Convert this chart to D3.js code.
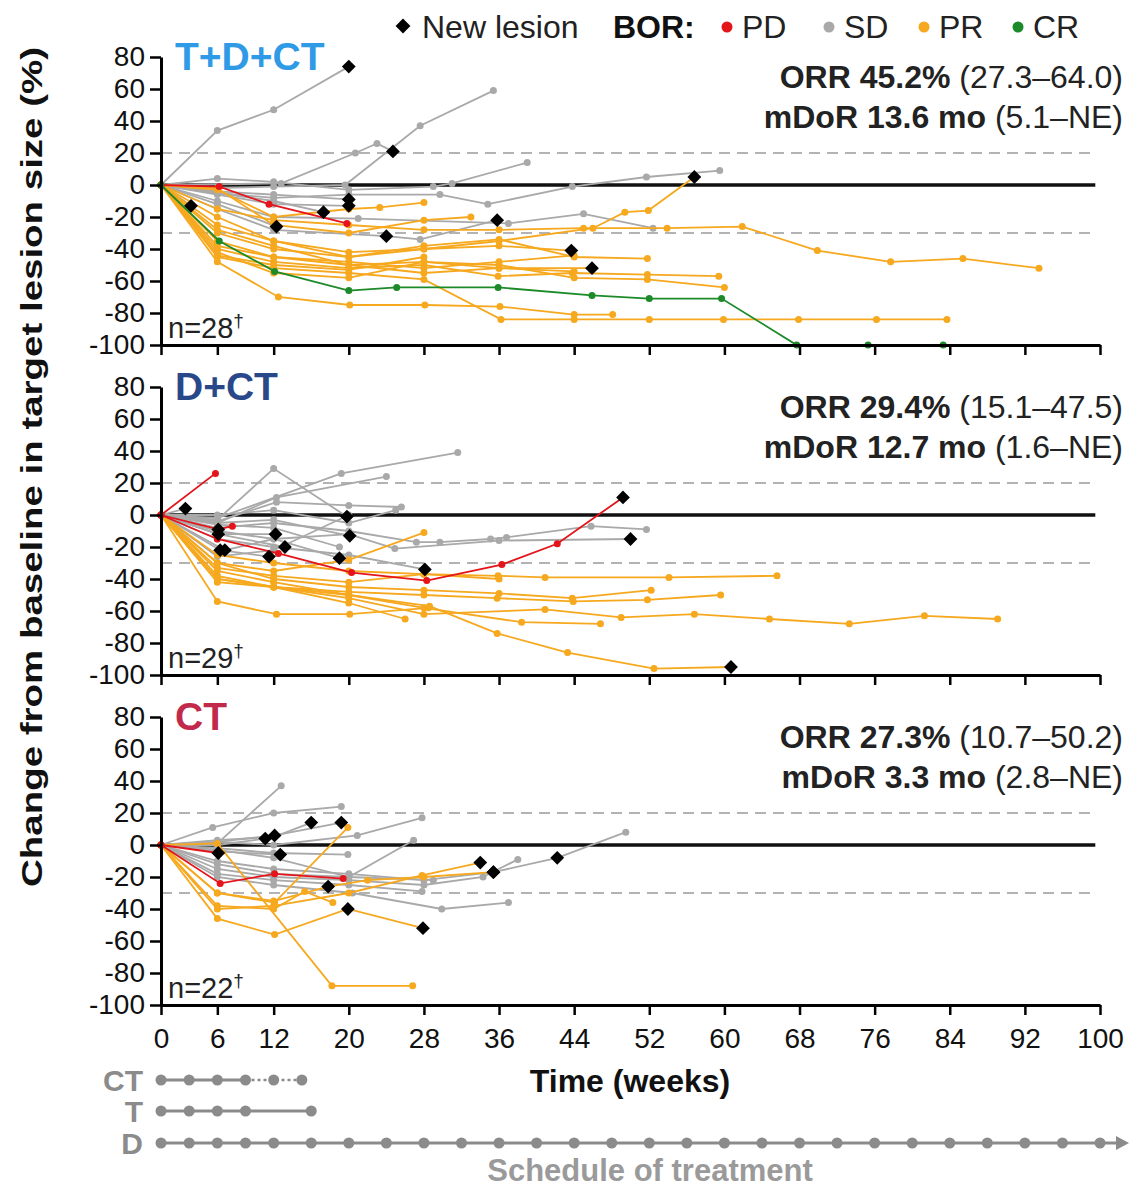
<!DOCTYPE html>
<html>
<head>
<meta charset="utf-8">
<script src="https://cdn.jsdelivr.net/npm/d3@7"></script>
<style>
  body { margin: 0; background: #fff; }
  text { font-family: "Liberation Sans", Arial, sans-serif; }
</style>
</head>
<body>
<div id="chart"></div>
<script>
// ---- data: weeks (t), % change (v), new lesion points (nl) ----
const weekTicks = [0, 6, 12, 20, 28, 36, 44, 52, 60, 68, 76, 84, 92, 100];
const yTicks = [80, 60, 40, 20, 0, -20, -40, -60, -80, -100];
const refLines = [20, -30];

const panelTitles = ["T+D+CT", "D+CT", "CT"];
const panelN = ["n=28", "n=29", "n=22"];
const orrText = ["ORR 45.2%", "ORR 29.4%", "ORR 27.3%"];
const orrCI = ["(27.3–64.0)", "(15.1–47.5)", "(10.7–50.2)"];
const mdorText = ["mDoR 13.6 mo", "mDoR 12.7 mo", "mDoR 3.3 mo"];
const mdorCI = ["(5.1–NE)", "(1.6–NE)", "(2.8–NE)"];

const borLabels = ["PD", "SD", "PR", "CR"];

const tdctPatients = [
  {b: "SD", t: [0, 6, 12, 20], v: [0, 34, 47, 74], nl: [3]},
  {b: "SD", t: [0, 12.8, 20.7, 23, 24.7], v: [0, 1, 20, 26, 21], nl: [4]},
  {b: "SD", t: [0, 6, 12, 19.6, 27.6, 35.4], v: [0, -2, -1, 0, 37, 59]},
  {b: "SD", t: [0, 6, 12, 20, 29, 31, 39], v: [0, 4, 2, -3, -1, 1, 14]},
  {b: "SD", t: [0, 6, 12, 20, 29.7, 34.8, 43.8, 51.7, 59.5], v: [0, -5, -8, -6, -6, -12, -1, 5, 9]},
  {b: "SD", t: [0, 6, 12, 20], v: [0, -4, -6, -9], nl: [3]},
  {b: "SD", t: [0, 6, 12, 21, 37, 45, 52.4], v: [0, -10, -20, -21, -24, -18, -27]},
  {b: "SD", t: [0, 6, 12.3], v: [0, -12, -26], nl: [2]},
  {b: "SD", t: [0, 6, 12, 20], v: [0, -6, -12, -13], nl: [3]},
  {b: "SD", t: [0, 6, 12, 24, 27.6, 35.8], v: [0, -15, -28, -32, -34, -22], nl: [3, 5]},
  {b: "SD", t: [0, 3.2], v: [0, -13], nl: [1]},
  {b: "SD", t: [0, 6, 12, 17.3], v: [0, -5, -10, -17], nl: [3]},
  {b: "PD", t: [0, 6.2, 11.5, 19.8], v: [0, -1, -12, -24]},
  {b: "PR", t: [0, 6, 12, 20, 28, 36, 45, 53.9, 61.9, 69.9, 77.7, 85.4, 93.5], v: [0, -15, -22, -25, -28, -28, -27, -27, -26, -41, -48, -46, -52]},
  {b: "PR", t: [0, 6, 12, 20, 28, 36.2, 44, 52, 59.9, 67.9, 76.2, 83.7], v: [0, -45, -52, -55, -59, -84, -84, -84, -84, -84, -84, -84]},
  {b: "PR", t: [0, 6, 12.5, 20.1, 28.1, 36.1, 44, 48.1], v: [0, -48, -70, -75, -75, -76, -81, -81]},
  {b: "PR", t: [0, 6, 12, 20, 28, 35.9, 43.8, 51.8, 59.4], v: [0, -40, -48, -52, -50, -57, -55, -56, -57]},
  {b: "PR", t: [0, 6, 12, 20, 28, 36, 44, 51.8, 60], v: [0, -42, -55, -58, -48, -50, -58, -59, -64]},
  {b: "PR", t: [0, 6, 12, 20, 28, 36, 44, 51.8], v: [0, -30, -40, -45, -38, -34, -45, -46]},
  {b: "PR", t: [0, 6, 12, 20, 28, 36, 46, 49.4, 51.9, 56.8], v: [0, -20, -35, -45, -40, -35, -27, -17, -16, 5], nl: [9]},
  {b: "PR", t: [0, 6, 12, 20, 23.3, 28], v: [0, -3, -20, -15, -14, -11]},
  {b: "PR", t: [0, 6, 12, 20, 28, 36, 45.9], v: [0, -38, -45, -50, -48, -52, -52], nl: [6]},
  {b: "PR", t: [0, 6, 12, 20, 28, 36, 43.7], v: [0, -25, -35, -42, -40, -38, -41], nl: [6]},
  {b: "PR", t: [0, 6, 12, 20, 28], v: [0, -44, -50, -53, -45]},
  {b: "PR", t: [0, 6, 12, 20, 28, 36, 44], v: [0, -35, -45, -48, -52, -48, -44]},
  {b: "PR", t: [0, 6, 12, 20, 28, 36, 44], v: [0, -28, -38, -50, -55, -52, -54]},
  {b: "PR", t: [0, 6, 12, 20, 28, 33], v: [0, -2, -25, -30, -22, -20]},
  {b: "CR", t: [0, 6.2, 12.1, 20, 25.1, 35.9, 45.9, 52, 59.7, 67.7, 75.3, 83.3], v: [0, -35, -54, -66, -64, -64, -69, -71, -71, -100, -100, -100]}
];

const dctPatients = [
  {b: "SD", t: [0, 6, 19.2, 31.6], v: [0, -2, 26, 39]},
  {b: "SD", t: [0, 6, 12, 19.8], v: [0, -3, 29, -1], nl: [3]},
  {b: "SD", t: [0, 6, 12.3, 24], v: [0, -5, 11, 24]},
  {b: "SD", t: [0, 6, 12.3, 20, 25.6], v: [0, -4, 8, 6, 5]},
  {b: "SD", t: [0, 6, 12, 20, 27.2, 29.7, 35.1, 36.8, 45.8, 51.7], v: [0, -8, -5, -10, -17, -17, -15, -14, -7, -9]},
  {b: "SD", t: [0, 6, 12, 20, 24.9, 36, 50], v: [0, -10, -15, -12, -21, -16, -15], nl: [6]},
  {b: "SD", t: [0, 2.6], v: [0, 4], nl: [1]},
  {b: "SD", t: [0, 6.1, 12.2], v: [0, -12, -12], nl: [1, 2]},
  {b: "SD", t: [0, 6.1, 13.2], v: [0, -12, -20], nl: [2]},
  {b: "SD", t: [0, 6.3, 11.5], v: [0, -22, -26], nl: [1, 2]},
  {b: "SD", t: [0, 6.8, 12, 19], v: [0, -22, -15, -27], nl: [1, 3]},
  {b: "SD", t: [0, 6, 12, 20.1], v: [0, -5, -3, -13], nl: [3]},
  {b: "SD", t: [0, 6, 12, 20, 28.1], v: [0, -15, -20, -25, -34], nl: [4]},
  {b: "SD", t: [0, 6, 12, 20], v: [0, -26, -22, 0]},
  {b: "SD", t: [0, 6, 12, 20, 25], v: [0, 0, 3, -5, 3]},
  {b: "SD", t: [0, 6, 12, 19], v: [0, -6, -8, -20]},
  {b: "PR", t: [0, 6, 12, 20, 28, 35.9, 40.9, 54.1, 65.6], v: [0, -25, -30, -35, -37, -38, -39, -39, -38]},
  {b: "PR", t: [0, 6, 12, 20, 28, 40.9, 49, 56.8, 64.8, 73.3, 81.3, 89.1], v: [0, -38, -45, -52, -62, -59, -64, -62, -65, -68, -63, -65]},
  {b: "PR", t: [0, 6, 12, 20, 28.6, 35.8, 43.3, 52.5, 60.7], v: [0, -42, -45, -50, -57, -74, -86, -96, -95], nl: [8]},
  {b: "PR", t: [0, 6, 12, 20, 28, 36, 43.8, 52.2], v: [0, -30, -40, -45, -47, -49, -52, -47]},
  {b: "PR", t: [0, 6, 12, 20, 28, 35.8, 43.9, 51.8, 59.6], v: [0, -40, -45, -48, -50, -52, -54, -53, -50]},
  {b: "PR", t: [0, 6, 12, 20, 28, 38.4, 46.8], v: [0, -35, -42, -50, -58, -67, -68]},
  {b: "PR", t: [0, 6, 12, 20, 28], v: [0, -30, -35, -28, -11]},
  {b: "PR", t: [0, 6, 12, 20, 26], v: [0, -40, -45, -55, -65]},
  {b: "PR", t: [0, 6, 12.3, 20.1, 28.5], v: [0, -54, -62, -62, -58]},
  {b: "PR", t: [0, 6, 12, 20, 28, 36], v: [0, -33, -38, -42, -37, -40]},
  {b: "PD", t: [0, 5.8], v: [0, 26]},
  {b: "PD", t: [0, 6.1, 7.6], v: [0, -9, -7], nl: [1]},
  {b: "PD", t: [0, 6, 12.5, 20.3, 28.3, 36.3, 42.2, 49.2], v: [0, -15, -24, -36, -41, -31, -18, 11], nl: [7]}
];

const ctPatients = [
  {b: "SD", t: [0, 6, 12.8], v: [0, 1, 37]},
  {b: "SD", t: [0, 5.5, 12, 19.2], v: [0, 11, 20, 24]},
  {b: "SD", t: [0, 6, 12, 20.9, 27.8], v: [0, 2, 0, 6, 17]},
  {b: "SD", t: [0, 6, 12, 20, 26.9], v: [0, -3, -8, -20, 3]},
  {b: "SD", t: [0, 6, 12, 20, 28, 35.4, 42.2, 49.5], v: [0, -10, -15, -18, -22, -17, -8, 8], nl: [5, 6]},
  {b: "SD", t: [0, 6, 12, 20, 28, 34.3, 38], v: [0, -15, -20, -22, -25, -20, -9]},
  {b: "SD", t: [0, 6, 12, 20.4, 29.9, 37], v: [0, -20, -25, -30, -40, -36]},
  {b: "SD", t: [0, 6, 12, 19.9], v: [0, -2, -5, -6]},
  {b: "SD", t: [0, 6, 12, 20, 29], v: [0, -12, -18, -20, -22]},
  {b: "SD", t: [0, 6, 12, 20, 27.8], v: [0, -18, -22, -25, -29]},
  {b: "SD", t: [0, 6, 11.1], v: [0, 0, 4], nl: [2]},
  {b: "SD", t: [0, 6, 12.1, 19.2], v: [0, 2, 6, 14], nl: [2, 3]},
  {b: "SD", t: [0, 6, 12.7], v: [0, -4, -6], nl: [2]},
  {b: "SD", t: [0, 6, 12, 16], v: [0, 3, 5, 14], nl: [3]},
  {b: "PR", t: [0, 6, 12.1, 19.9], v: [0, -30, -36, 11]},
  {b: "PR", t: [0, 6, 18.2, 26.8], v: [0, 1, -88, -88]},
  {b: "PR", t: [0, 6, 12.1, 19.9, 27.9], v: [0, -46, -56, -40, -52], nl: [3, 4]},
  {b: "PR", t: [0, 6, 12, 20, 27.8, 34], v: [0, -40, -38, -30, -19, -11], nl: [5]},
  {b: "PR", t: [0, 6, 12, 17.8, 22, 28, 35.4], v: [0, -30, -35, -26, -22, -20, -17], nl: [3, 6]},
  {b: "PR", t: [0, 6, 12, 15.3, 18.3], v: [0, -38, -40, -29, -36]},
  {b: "PD", t: [0, 6.3, 12.1, 19.4], v: [0, -24, -18, -21]},
  {b: "PD", t: [0, 6.1], v: [0, -5], nl: [1]}
];

// treatment schedule (weeks of dosing)
const scheduleRows = ["CT", "T", "D"];
const ctDoses = [0, 3, 6, 9, 12, 15];
const tDoses = [0, 3, 6, 9, 16];
const dDoses = [0, 3, 6, 9, 12, 16, 20, 24, 28, 32, 36, 40, 44, 48, 52, 56, 60, 64, 68, 72, 76, 80, 84, 88, 92, 96, 100];

// ---- drawing ----
const W = 1130, H = 1187;
const colors = {PD: "#e4141b", SD: "#a9a9a9", PR: "#f6a81f", CR: "#1c8a28"};
const titleColors = ["#2f9ae6", "#29488a", "#c22a4c"];
const drawOrder = {SD: 0, PR: 1, PD: 2, CR: 3};
const panelTops = [57, 387, 717];
const panelH = 288;

const svg = d3.select("#chart").append("svg")
  .attr("width", W)
  .attr("height", H);

const xScale = d3.scaleLinear().domain([0, 100]).range([161, 1100]);

const fmt = d => d < 0 ? "-" + (-d) : String(d);
const diamond = d3.symbol().type(d3.symbolSquare).size(95);

const panels = [tdctPatients, dctPatients, ctPatients];

panels.forEach((patients, i) => {
  const top = panelTops[i];
  const yScale = d3.scaleLinear().domain([-100, 80]).range([top + panelH, top]);
  const g = svg.append("g");

  // reference lines
  g.selectAll(".ref").data(refLines).enter().append("line")
    .attr("x1", xScale(0)).attr("x2", xScale(99.5))
    .attr("y1", d => yScale(d)).attr("y2", d => yScale(d))
    .attr("stroke", "#b3b3b3").attr("stroke-width", 2)
    .attr("stroke-dasharray", "11,7");

  g.append("line")
    .attr("x1", xScale(0)).attr("x2", xScale(99.5))
    .attr("y1", yScale(0)).attr("y2", yScale(0))
    .attr("stroke", "#111").attr("stroke-width", 3.5);

  const line = d3.line()
    .x(d => xScale(d[0]))
    .y(d => yScale(d[1]));

  const sorted = patients.slice().sort((a, b) => drawOrder[a.b] - drawOrder[b.b]);

  sorted.forEach(p => {
    const pts = p.t.map((t, k) => [t, p.v[k]]);
    g.append("path")
      .datum(pts)
      .attr("fill", "none")
      .attr("stroke", colors[p.b])
      .attr("stroke-width", 1.8)
      .attr("d", line);
    g.selectAll(null).data(pts).enter().append("circle")
      .attr("cx", d => xScale(d[0]))
      .attr("cy", d => yScale(d[1]))
      .attr("r", 3.5)
      .attr("fill", colors[p.b]);
  });

  // new lesion markers on top
  sorted.forEach(p => {
    (p.nl || []).forEach(k => {
      g.append("path")
        .attr("d", diamond)
        .attr("transform", `translate(${xScale(p.t[k])},${yScale(p.v[k])}) rotate(45)`)
        .attr("fill", "#000");
    });
  });

  // axes
  const yAxis = g.append("g")
    .attr("transform", `translate(${xScale(0)},0)`)
    .call(d3.axisLeft(yScale).tickValues(yTicks).tickFormat(fmt).tickSize(11).tickSizeOuter(0).tickPadding(5));
  yAxis.select(".domain").attr("stroke-width", 3);
  yAxis.selectAll(".tick line").attr("stroke-width", 2.5);
  yAxis.selectAll("text").attr("font-size", 28).attr("fill", "#111");

  const xAxis = g.append("g")
    .attr("transform", `translate(0,${yScale(-100)})`)
    .call(d3.axisBottom(xScale).tickValues(weekTicks).tickSize(10).tickSizeOuter(0).tickPadding(13));
  xAxis.select(".domain").attr("stroke-width", 3);
  xAxis.selectAll(".tick line").attr("stroke-width", 2.5);
  xAxis.selectAll("text").attr("font-size", 28).attr("fill", "#111");
  if (i < 2) xAxis.selectAll("text").remove();

  // panel title
  g.append("text")
    .attr("x", 175).attr("y", top + 13)
    .attr("font-size", 39).attr("font-weight", "bold")
    .attr("fill", titleColors[i])
    .text(panelTitles[i]);

  // ORR / mDoR
  const s1 = g.append("text").attr("x", 1123).attr("y", top + 31)
    .attr("text-anchor", "end").attr("font-size", 32).attr("fill", "#222");
  s1.append("tspan").attr("font-weight", "bold").text(orrText[i] + " ");
  s1.append("tspan").text(orrCI[i]);
  const s2 = g.append("text").attr("x", 1123).attr("y", top + 71)
    .attr("text-anchor", "end").attr("font-size", 32).attr("fill", "#222");
  s2.append("tspan").attr("font-weight", "bold").text(mdorText[i] + " ");
  s2.append("tspan").text(mdorCI[i]);

  // n label
  const nt = g.append("text").attr("x", 168).attr("y", top + panelH - 7)
    .attr("font-size", 29).attr("fill", "#222");
  nt.append("tspan").text(panelN[i]);
  nt.append("tspan").attr("font-size", 19).attr("dy", -11).text("\u2020");
});

// y axis title
svg.append("text")
  .attr("transform", "translate(42,467) rotate(-90)")
  .attr("text-anchor", "middle")
  .attr("font-size", 30).attr("font-weight", "bold").attr("fill", "#111")
  .attr("textLength", 840).attr("lengthAdjust", "spacingAndGlyphs")
  .text("Change from baseline in target lesion size (%)");

// x axis title
svg.append("text")
  .attr("x", 630).attr("y", 1092)
  .attr("text-anchor", "middle")
  .attr("font-size", 32).attr("font-weight", "bold").attr("fill", "#111")
  .text("Time (weeks)");

// legend
const legend = svg.append("g");
legend.append("path")
  .attr("d", d3.symbol().type(d3.symbolSquare).size(110))
  .attr("transform", "translate(403,26) rotate(45)")
  .attr("fill", "#000");
legend.append("text").attr("x", 422).attr("y", 38)
  .attr("font-size", 32).attr("fill", "#222").text("New lesion");
legend.append("text").attr("x", 613).attr("y", 38)
  .attr("font-size", 32).attr("font-weight", "bold").attr("fill", "#111").text("BOR:");
const legendX = [727, 829, 924, 1018];
borLabels.forEach((b, k) => {
  legend.append("circle").attr("cx", legendX[k]).attr("cy", 27).attr("r", 5.5).attr("fill", colors[b]);
  legend.append("text").attr("x", legendX[k] + 15).attr("y", 38)
    .attr("font-size", 32).attr("fill", "#222").text(b);
});

// schedule of treatment
const schedGray = "#8b8b8b";
const rowY = [1080, 1111, 1143];
const sched = svg.append("g");
scheduleRows.forEach((r, k) => {
  sched.append("text")
    .attr("x", 143).attr("y", rowY[k] + 11)
    .attr("text-anchor", "end")
    .attr("font-size", 30).attr("font-weight", "bold").attr("fill", schedGray)
    .text(r);
});
// CT: solid to week 9, dotted to 15
sched.append("line").attr("x1", xScale(0)).attr("x2", xScale(9))
  .attr("y1", rowY[0]).attr("y2", rowY[0]).attr("stroke", schedGray).attr("stroke-width", 3);
sched.append("line").attr("x1", xScale(9)).attr("x2", xScale(15))
  .attr("y1", rowY[0]).attr("y2", rowY[0]).attr("stroke", schedGray).attr("stroke-width", 2.5)
  .attr("stroke-dasharray", "3,3");
// T
sched.append("line").attr("x1", xScale(0)).attr("x2", xScale(16))
  .attr("y1", rowY[1]).attr("y2", rowY[1]).attr("stroke", schedGray).attr("stroke-width", 3);
// D with arrow
sched.append("line").attr("x1", xScale(0)).attr("x2", 1120)
  .attr("y1", rowY[2]).attr("y2", rowY[2]).attr("stroke", schedGray).attr("stroke-width", 3);
sched.append("path")
  .attr("d", `M1116,${rowY[2] - 7} L1129,${rowY[2]} L1116,${rowY[2] + 7} Z`)
  .attr("fill", schedGray);

[ctDoses, tDoses, dDoses].forEach((doses, k) => {
  sched.selectAll(null).data(doses).enter().append("circle")
    .attr("cx", d => xScale(d))
    .attr("cy", rowY[k])
    .attr("r", 5.5)
    .attr("fill", schedGray);
});

svg.append("text")
  .attr("x", 650).attr("y", 1181)
  .attr("text-anchor", "middle")
  .attr("font-size", 31).attr("font-weight", "bold").attr("fill", "#9a9a9a")
  .text("Schedule of treatment");
</script>
</body>
</html>
